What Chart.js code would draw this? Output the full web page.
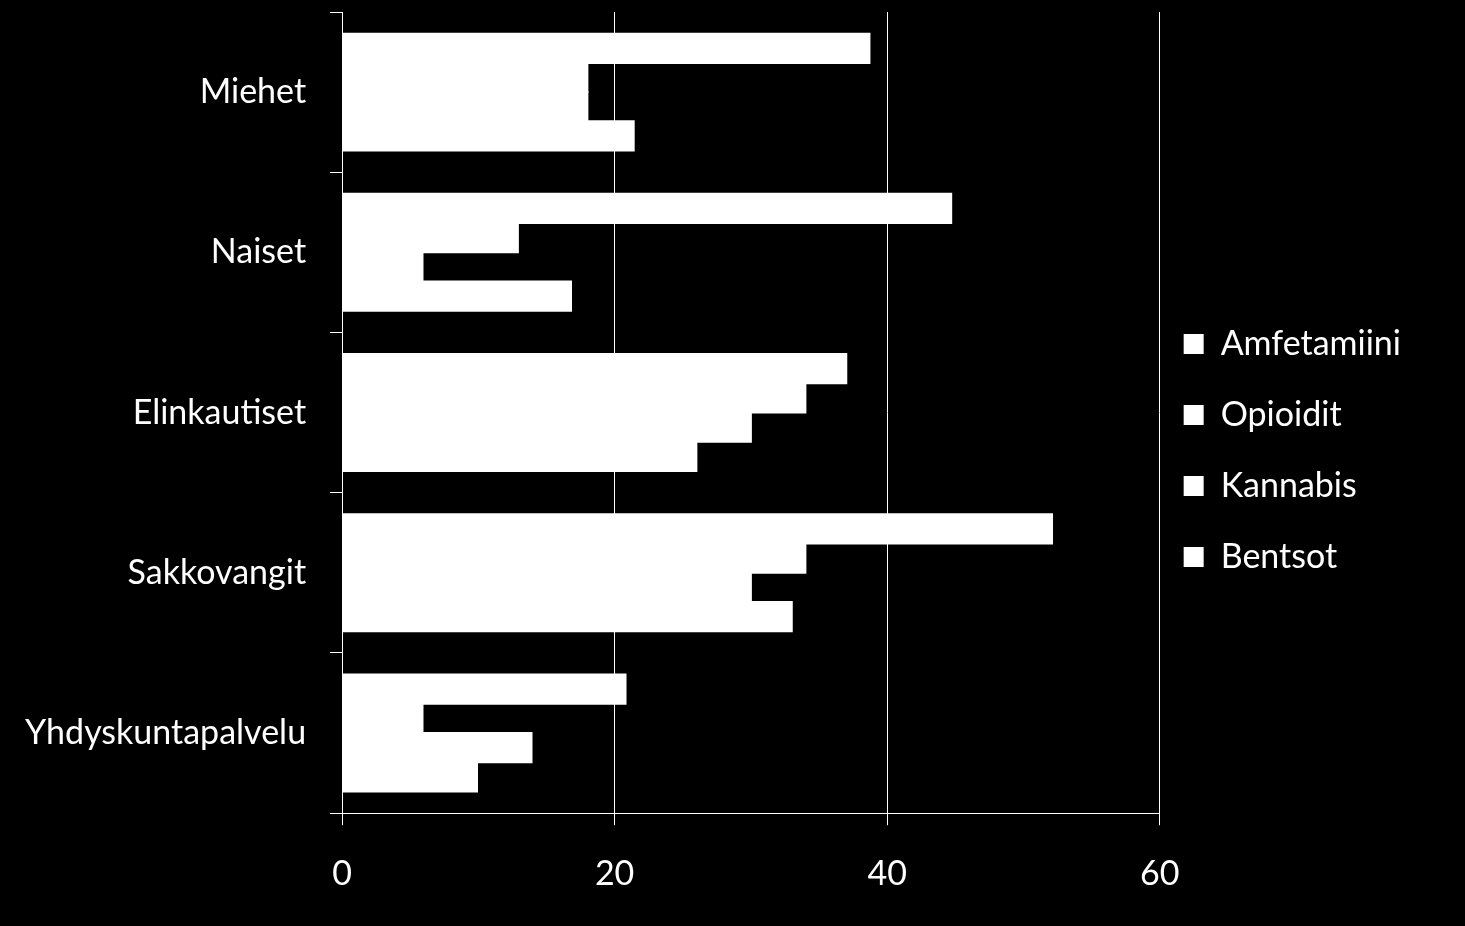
<!DOCTYPE html>
<html>
<head>
<meta charset="utf-8">
<script src="https://cdn.jsdelivr.net/npm/chart.js@4"></script>
<style>
  html, body { margin: 0; padding: 0; background: #000; }
  canvas { display: block; }
</style>
</head>
<body>
<canvas id="graf" width="1465" height="926"></canvas>
<script>
// Kategoriat ja sarjat
var ryhmat = ["Miehet", "Naiset", "Elinkautiset", "Sakkovangit", "Yhdyskuntapalvelu"];
var sarjaNimet = ["Amfetamiini", "Opioidit", "Kannabis", "Bentsot"];
var amfetamiini = [38.7, 44.7, 37, 52.1, 20.8];
var opioidit = [18, 12.9, 34, 34, 5.9];
var kannabis = [18, 5.9, 30, 30, 13.9];
var bentsot = [21.4, 16.8, 26, 33, 9.9];
var xTicks = [0, 20, 40, 60];

var fontti = "Lato, 'Open Sans', sans-serif";
var valkoinen = "#ffffff";

function sarja(nimi, data) {
  return {
    label: nimi,
    data: data,
    backgroundColor: valkoinen,
    borderWidth: 0,
    inflateAmount: 1,
    categoryPercentage: 0.73,
    barPercentage: 1.0,
  };
}

var ctx = document.getElementById("graf").getContext("2d");

var graf = new Chart(ctx, {
  type: "bar",
  data: {
    labels: ryhmat,
    datasets: [
      sarja(sarjaNimet[0], amfetamiini),
      sarja(sarjaNimet[1], opioidit),
      sarja(sarjaNimet[2], kannabis),
      sarja(sarjaNimet[3], bentsot),
    ],
  },
  options: {
    indexAxis: "y",
    responsive: false,
    animation: false,
    layout: {
      padding: { top: -20, left: 1, right: 54, bottom: 4 },
    },
    scales: {
      x: {
        min: xTicks[0],
        max: xTicks[xTicks.length - 1],
        afterBuildTicks: function (axis) {
          axis.ticks = xTicks.map(function (v) { return { value: v }; });
        },
        grid: {
          color: valkoinen,
          lineWidth: 1,
          tickLength: 12,
        },
        border: { color: valkoinen, width: 1 },
        ticks: {
          color: valkoinen,
          font: { family: fontti, size: 34 },
          padding: 28,
        },
      },
      y: {
        offset: true,
        // akselin oma ylä-/alareunan varaus pois, muuten kaavio alkaa liian alhaalta
        afterFit: function (axis) {
          axis.paddingTop = 12;
          axis.paddingBottom = 0;
        },
        grid: {
          offset: true,
          drawOnChartArea: false,
          color: valkoinen,
          tickLength: 12,
        },
        border: { color: valkoinen, width: 1 },
        ticks: {
          color: valkoinen,
          font: { family: fontti, size: 34 },
          padding: 24,
        },
      },
    },
    plugins: {
      tooltip: { enabled: false },
      legend: {
        position: "right",
        title: { display: true, text: " ", font: { size: 12, lineHeight: 1 }, padding: 0 },
        labels: {
          color: valkoinen,
          boxWidth: 20,
          boxHeight: 20,
          padding: 24,
          font: { family: fontti, size: 34, lineHeight: "47px" },
          generateLabels: function (chart) {
            var items = Chart.defaults.plugins.legend.labels.generateLabels(chart);
            items.forEach(function (it) { it.text = [it.text]; });
            return items;
          },
        },
      },
    },
  },
});
</script>
</body>
</html>
